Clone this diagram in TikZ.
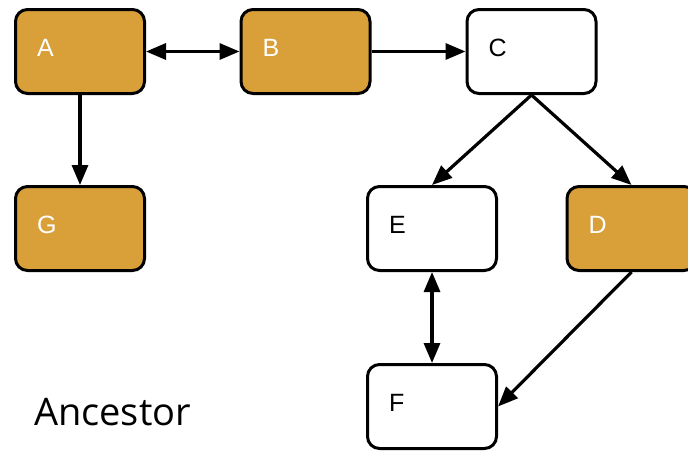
\documentclass[tikz,border=0pt]{standalone}
\usepackage{fontspec}
\setmainfont{Liberation Sans}
\newfontfamily\legendfont{Open Sans}
\usetikzlibrary{arrows.meta,shapes}

\definecolor{ancfill}{RGB}{217,160,58}

\begin{document}
\begin{tikzpicture}[>={Triangle[length=20bp,width=16bp]},line join=bevel,
  box/.style={draw,rounded corners=12bp,line width=3bp,
    minimum width=129bp,minimum height=84bp,
    text width=86bp,inner xsep=21.5bp,inner ysep=0pt,align=left,
    text height=18bp,text depth=8bp,
    font=\fontsize{25bp}{29bp}\selectfont},
  ancbox/.style={box,fill=ancfill,text=white},
  plainbox/.style={box,fill=white},
  edge/.style={line width=3.2bp}]
\useasboundingbox (0bp,0bp) rectangle (688bp,-452bp);

% Node: A
\node[ancbox] (A) at (80bp,-51.5bp) {A};

% Node: B
\node[ancbox] (B) at (305.5bp,-51.5bp) {B};

% Node: C
\node[plainbox] (C) at (531.5bp,-51.5bp) {C};

% Node: G
\node[ancbox] (G) at (80bp,-228.5bp) {G};

% Node: E
\node[plainbox] (E) at (432bp,-228.5bp) {E};

% Node: D
\node[ancbox] (D) at (631.5bp,-228.5bp) {D};

% Node: F
\node[plainbox] (F) at (432bp,-406.5bp) {F};

% Edge: A <-> B
\draw [edge,<->] (A) -- (B);

% Edge: B -> C
\draw [edge,->] (B) -- (C);

% Edge: A -> G
\draw [edge,->] (A) -- (G);

% Edge: C -> E
\draw [edge,->] (C.south) -- (E.north);

% Edge: C -> D
\draw [edge,->] (C.south) -- (D.north);

% Edge: E <-> F
\draw [edge,<->] (E) -- (F);

% Edge: D -> F
\draw [edge,->] (D.south) -- (F.east);

% Legend
\node[anchor=base west,inner sep=0pt,font=\legendfont\fontsize{38bp}{42bp}\selectfont]
  (legend) at (34bp,-425bp) {Ancestor};

\end{tikzpicture}
\end{document}
